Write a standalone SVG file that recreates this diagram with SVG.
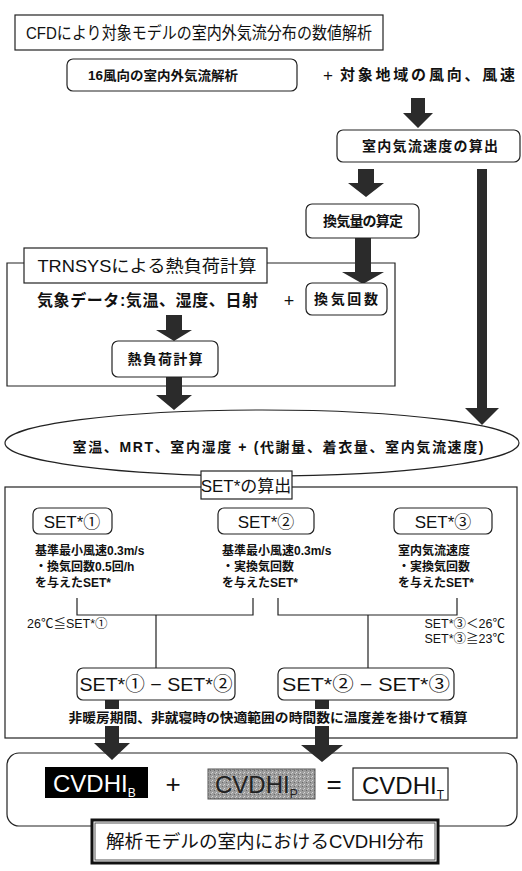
<svg xmlns="http://www.w3.org/2000/svg" width="522" height="871" viewBox="0 0 522 871">
<defs>
<style>
text{font-family:"Liberation Sans","Noto Sans CJK JP",sans-serif;fill:#111;}
.b{font-weight:bold;}
.box{fill:#fff;stroke:#222;stroke-width:1.2;}
.frame{fill:none;stroke:#222;stroke-width:1.2;}
.ln{fill:none;stroke:#222;stroke-width:1.2;}
.arr{fill:#2b2b2b;stroke:none;}
</style>
<pattern id="tex" width="4" height="4" patternUnits="userSpaceOnUse">
<rect width="4" height="4" fill="#9c9c9c"/>
<rect x="0" y="0" width="1" height="1" fill="#d8d8d8"/>
<rect x="2" y="2" width="1" height="1" fill="#6a6a6a"/>
<rect x="3" y="1" width="1" height="1" fill="#c4c4c4"/>
</pattern>
</defs>
<rect width="522" height="871" fill="#fff"/>

<g id="trnsys-frame">
<path class="frame" d="M24,263 H7 V386 H395 V263 H267"/>
</g>
<g id="ellipse">
<ellipse class="box" cx="262" cy="443" rx="257" ry="33"/>
<text class="b" x="278" y="452" font-size="14" text-anchor="middle" textLength="411" lengthAdjust="spacing">室温、MRT、室内湿度 + (代謝量、着衣量、室内気流速度)</text>
</g>
<g id="setframe">
<rect class="frame" x="5" y="487" width="512" height="251"/>
</g>
<g id="result-frame">
<rect class="frame" x="7" y="753" width="510" height="73" rx="12"/>
</g>

<g id="connectors">
<path class="arr" d="M411,98 H425 V113 H433 L418,128 L403,113 H411 Z"/>
<path class="arr" d="M358,169 H374 V183 H384 L366,197 L348,183 H358 Z"/>
<path class="arr" d="M477,169 H487 V408 H499 L482,425 L465,408 H477 Z"/>
<path class="arr" d="M355,238 H371 V272 H384 L363,284 L342,272 H355 Z"/>
<path class="arr" d="M166,315 H182 V330 H192 L174,341 L156,330 H166 Z"/>
<path class="arr" d="M166,377 H182 V395 H192 L174,410 L156,395 H166 Z"/>
<path class="arr" d="M105,700 H119 V743 H130 L112,760 L94,743 H105 Z"/>
<path class="arr" d="M315,700 H329 V745 H343 L322,762 L301,745 H315 Z"/>
<path class="ln" d="M77,598 V615 H253 V598 M156,615 V668"/>
<path class="ln" d="M278,598 V615 H457 V598 M368,615 V668"/>
</g>

<g id="title">
<rect class="box" x="15" y="15" width="368" height="35"/>
<text x="199" y="39" font-size="17" text-anchor="middle" textLength="346" lengthAdjust="spacingAndGlyphs">CFDにより対象モデルの室内外気流分布の数値解析</text>
</g>

<g id="n16">
<rect class="box" x="67" y="59" width="230" height="32" rx="6"/>
<text class="b" x="163" y="80" font-size="13" text-anchor="middle" textLength="150" lengthAdjust="spacingAndGlyphs">16風向の室内外気流解析</text>
</g>

<g id="wind">
<text x="328" y="81" font-size="17" text-anchor="middle">+</text>
<text class="b" x="340" y="80" font-size="15" textLength="175" lengthAdjust="spacing">対象地域の風向、風速</text>
</g>

<g id="indoor">
<rect class="box" x="337" y="130" width="183" height="32" rx="6"/>
<text class="b" x="430" y="151" font-size="14" text-anchor="middle" textLength="136" lengthAdjust="spacing">室内気流速度の算出</text>
</g>

<g id="vent">
<rect class="box" x="306" y="204" width="113" height="34" rx="6"/>
<text class="b" x="363" y="226" font-size="14" text-anchor="middle" textLength="80" lengthAdjust="spacing">換気量の算定</text>
</g>

<g id="trnsys">
<rect class="box" x="24" y="248" width="243" height="35"/>
<text x="147" y="272" font-size="17" text-anchor="middle" textLength="219" lengthAdjust="spacingAndGlyphs">TRNSYSによる熱負荷計算</text>
<text class="b" x="37" y="306" font-size="16" textLength="221" lengthAdjust="spacing">気象データ:気温、湿度、日射</text>
<text x="289" y="307" font-size="18" text-anchor="middle">+</text>
</g>

<g id="achange">
<rect class="box" x="306" y="283" width="81" height="32" rx="6"/>
<text class="b" x="346" y="304" font-size="14" text-anchor="middle" textLength="64" lengthAdjust="spacing">換気回数</text>
</g>

<g id="heat">
<rect class="box" x="112" y="341" width="106" height="36" rx="6"/>
<text class="b" x="165" y="364" font-size="14" text-anchor="middle" textLength="75" lengthAdjust="spacing">熱負荷計算</text>
</g>

<g id="setcalc">
<rect class="box" x="201" y="471" width="91" height="28"/>
<text x="246" y="492" font-size="17" text-anchor="middle">SET*の算出</text>
</g>

<g id="set1">
<rect class="box" x="33" y="508" width="79" height="26" rx="6"/>
<text x="72" y="528" font-size="17" text-anchor="middle">SET*①</text>
<text class="b" x="35" y="555" font-size="12">基準最小風速0.3m/s</text>
<text class="b" x="35" y="571" font-size="12">・換気回数0.5回/h</text>
<text class="b" x="35" y="587" font-size="12">を与えたSET*</text>
</g>

<g id="set2">
<rect class="box" x="218" y="508" width="96" height="26" rx="6"/>
<text x="266" y="528" font-size="17" text-anchor="middle">SET*②</text>
<text class="b" x="222" y="555" font-size="12">基準最小風速0.3m/s</text>
<text class="b" x="222" y="571" font-size="12">・実換気回数</text>
<text class="b" x="222" y="587" font-size="12">を与えたSET*</text>
</g>

<g id="set3">
<rect class="box" x="394" y="508" width="98" height="26" rx="6"/>
<text x="443" y="528" font-size="17" text-anchor="middle">SET*③</text>
<text class="b" x="398" y="555" font-size="12">室内気流速度</text>
<text class="b" x="398" y="571" font-size="12">・実換気回数</text>
<text class="b" x="398" y="587" font-size="12">を与えたSET*</text>
</g>

<g id="cond">
<text x="27" y="628" font-size="12.5">26℃≦SET*①</text>
<text x="505" y="628" font-size="12.5" text-anchor="end">SET*③＜26℃</text>
<text x="505" y="643" font-size="12.5" text-anchor="end">SET*③≧23℃</text>
</g>

<g id="diff12">
<rect class="box" x="77" y="668" width="158" height="32" rx="6"/>
<text x="156" y="691" font-size="19" text-anchor="middle" textLength="153" lengthAdjust="spacingAndGlyphs">SET*① − SET*②</text>
</g>

<g id="diff23">
<rect class="box" x="278" y="668" width="176" height="32" rx="6"/>
<text x="366" y="691" font-size="19" text-anchor="middle" textLength="168" lengthAdjust="spacingAndGlyphs">SET*② − SET*③</text>
</g>

<g id="note">
<rect x="66" y="709" width="404" height="17" fill="#fff"/>
<text class="b" x="268" y="722" font-size="13" text-anchor="middle" textLength="399" lengthAdjust="spacingAndGlyphs">非暖房期間、非就寝時の快適範囲の時間数に温度差を掛けて積算</text>
</g>

<g id="result">
<rect x="45" y="767" width="103" height="31" fill="#000"/>
<text x="53" y="792" font-size="24" style="fill:#fff">CVDHI<tspan font-size="12" dy="5">B</tspan></text>
<text x="173" y="793" font-size="26" text-anchor="middle">+</text>
<rect x="208" y="769" width="107" height="30" fill="url(#tex)" stroke="#555" stroke-width="1"/>
<text x="215" y="793" font-size="24" style="fill:#222">CVDHI<tspan font-size="12" dy="5">P</tspan></text>
<text x="334" y="793" font-size="26" text-anchor="middle">=</text>
<rect class="box" x="353" y="768" width="95" height="32"/>
<text x="362" y="794" font-size="24">CVDHI<tspan font-size="12" dy="5">T</tspan></text>
</g>

<g id="dist">
<rect x="92" y="820" width="346" height="43" fill="#fff" stroke="#111" stroke-width="3"/>
<rect x="95" y="823" width="340" height="37" fill="none" stroke="#555" stroke-width="1"/>
<text x="265" y="848" font-size="18" text-anchor="middle" textLength="318" lengthAdjust="spacingAndGlyphs">解析モデルの室内におけるCVDHI分布</text>
</g>
</svg>
